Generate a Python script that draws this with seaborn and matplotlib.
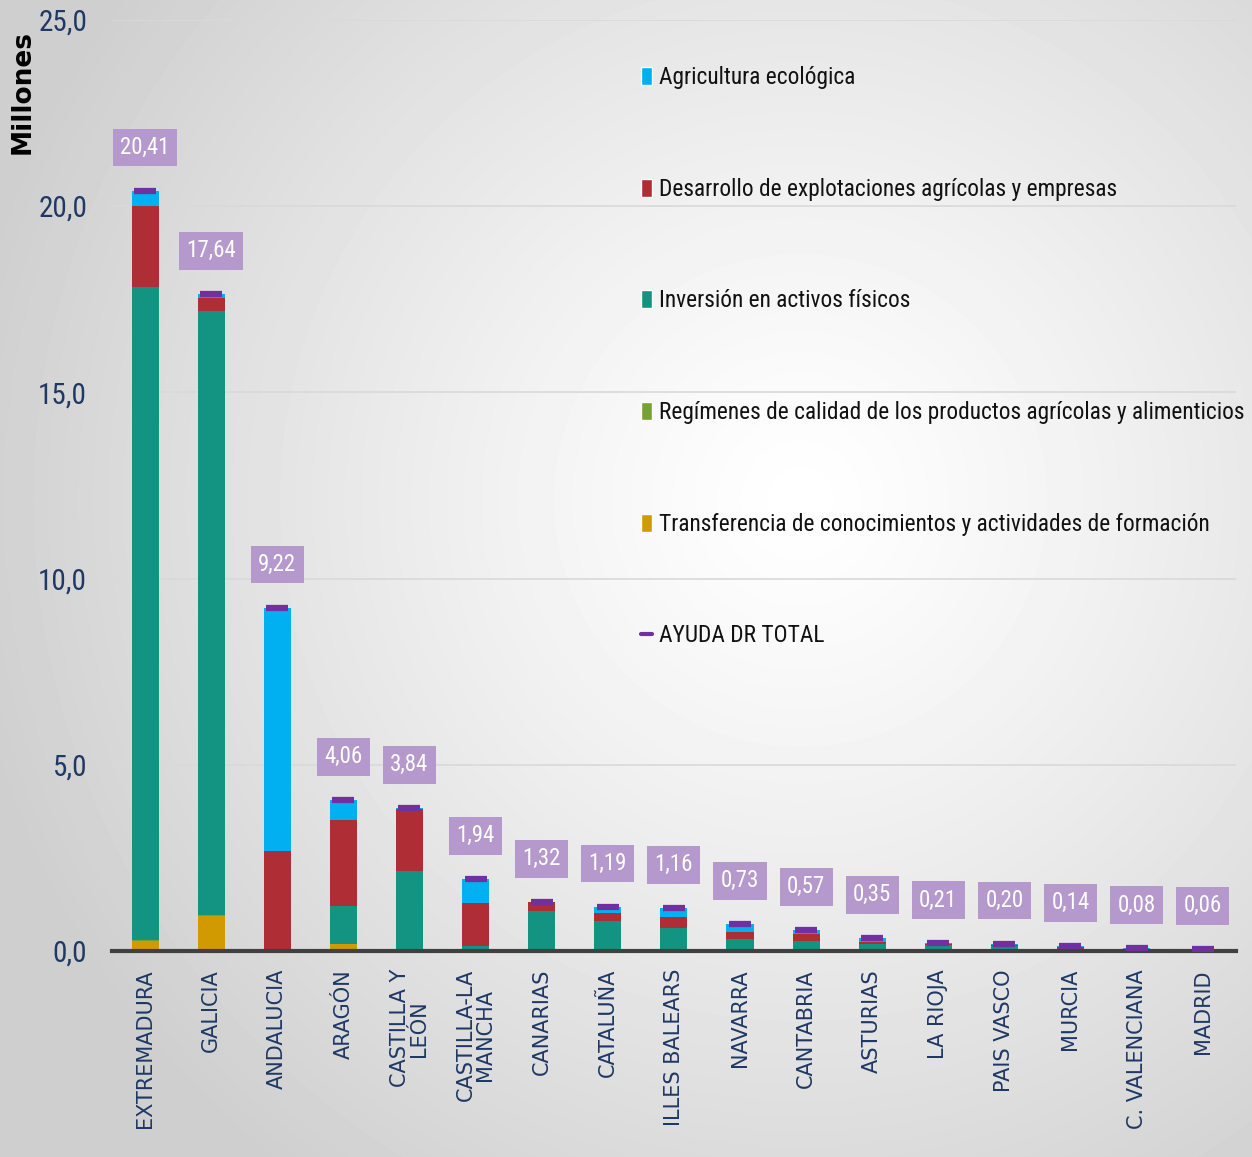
import matplotlib
matplotlib.use("Agg")
import matplotlib.pyplot as plt
from matplotlib.patches import Patch
from matplotlib.lines import Line2D
import seaborn as sns
import numpy as np

# Data (millones de euros)
regions = ["EXTREMADURA", "GALICIA", "ANDALUCIA", "ARAGÓN", "CASTILLA Y\nLEÓN",
           "CASTILLA-LA\nMANCHA", "CANARIAS", "CATALUÑA", "ILLES BALEARS", "NAVARRA",
           "CANTABRIA", "ASTURIAS", "LA RIOJA", "PAIS VASCO", "MURCIA",
           "C. VALENCIANA", "MADRID"]
transferencia = [0.28, 0.95, 0.00, 0.19, 0.00, 0.00, 0.00, 0.00, 0.00, 0.00,
                 0.00, 0.00, 0.00, 0.00, 0.00, 0.00, 0.00]
regimenes = [0.02, 0.02, 0.00, 0.00, 0.00, 0.00, 0.00, 0.00, 0.00, 0.00,
             0.00, 0.00, 0.00, 0.00, 0.00, 0.00, 0.01]
inversion = [17.53, 16.22, 0.00, 1.02, 2.15, 0.13, 1.07, 0.81, 0.62, 0.32,
             0.28, 0.19, 0.15, 0.14, 0.02, 0.02, 0.00]
desarrollo = [2.17, 0.34, 2.69, 2.31, 1.66, 1.16, 0.25, 0.20, 0.29, 0.19,
              0.18, 0.06, 0.03, 0.02, 0.08, 0.00, 0.05]
agricultura = [0.41, 0.11, 6.53, 0.54, 0.03, 0.65, 0.00, 0.18, 0.25, 0.22,
               0.11, 0.10, 0.03, 0.04, 0.04, 0.06, 0.00]
total = [20.41, 17.64, 9.22, 4.06, 3.84, 1.94, 1.32, 1.19, 1.16, 0.73,
         0.57, 0.35, 0.21, 0.20, 0.14, 0.08, 0.06]
total_labels = ["20,41", "17,64", "9,22", "4,06", "3,84", "1,94", "1,32", "1,19",
                "1,16", "0,73", "0,57", "0,35", "0,21", "0,20", "0,14", "0,08", "0,06"]

series = [
    ("Transferencia de conocimientos y actividades de formación", transferencia, "#D19A00"),
    ("Regímenes de calidad de los productos agrícolas y alimenticios", regimenes, "#78A22F"),
    ("Inversión en activos físicos", inversion, "#139483"),
    ("Desarrollo de explotaciones agrícolas y empresas", desarrollo, "#AF2D34"),
    ("Agricultura ecológica", agricultura, "#00B0F0"),
]

sns.set_style("white")
narrow = ["Roboto Condensed", "Open Sans Condensed", "Liberation Sans Narrow", "DejaVu Sans"]
navy = "#1F3864"

fig = plt.figure(figsize=(12.52, 11.57), dpi=100)

# radial grey background
bg = fig.add_axes([0, 0, 1, 1], zorder=-10)
yy, xx = np.mgrid[0:1157, 0:1252]
r = np.sqrt(((xx - 800) / 850.0) ** 2 + ((yy - 500) / 850.0) ** 2)
shade = 1.0 - 0.19 * np.clip(r, 0, 1) ** 1.2
bg.imshow(shade, cmap="gray", vmin=0, vmax=1, aspect="auto", extent=[0, 1, 0, 1])
bg.axis("off")

ax = fig.add_axes([0.0895, 0.178, 0.8975, 0.805])
ax.set_facecolor("none")

# stacked bars drawn as overlapping cumulative totals (top layer first)
cum = np.cumsum([np.array(s[1]) for s in series], axis=0)
for i in range(len(series) - 1, -1, -1):
    sns.barplot(x=regions, y=cum[i], color=series[i][2], width=0.41,
                saturation=1, linewidth=0, ax=ax, zorder=2)

# total marker
ax.plot(range(len(regions)), total, ls="none", marker="_", markersize=16,
        markeredgewidth=4.5, color="#7030A0", zorder=4)

# value labels
for i, (v, lab) in enumerate(zip(total, total_labels)):
    ax.annotate(lab, (i, v), xytext=(0, 31), textcoords="offset points",
                ha="center", va="center", color="white", fontsize=16.5,
                family=narrow,
                bbox=dict(boxstyle="square,pad=0.32", fc="#B598CC", ec="none"))

ax.set_ylim(0, 25)
ax.set_xlim(-0.5, 16.5)
ax.set_yticks([0, 5, 10, 15, 20, 25])
ax.set_yticklabels(["0,0", "5,0", "10,0", "15,0", "20,0", "25,0"],
                   family=narrow, fontsize=21, color=navy)
ax.yaxis.grid(True, color="#D9D9D9", linewidth=1.2, zorder=0)
ax.set_axisbelow(True)
ax.tick_params(axis="y", length=0, pad=18)
ax.tick_params(axis="x", length=0, pad=13)
ax.set_xticks(range(len(regions)))
ax.set_xticklabels(regions, rotation=90, va="top", ha="center", family="DejaVu Sans",
                   fontsize=15, color=navy, linespacing=0.95)
for s in ["left", "right", "top"]:
    ax.spines[s].set_visible(False)
ax.spines["bottom"].set_color("#404040")
ax.spines["bottom"].set_linewidth(3)
ax.set_xlabel("")

fig.text(0.018, 0.974, "Millones", rotation=90, ha="center", va="top",
         fontsize=19, fontweight="bold", color="black")

# legend
handles = [Patch(facecolor=c, label=n) for n, _, c in reversed(series)]
handles.append(Line2D([0], [0], color="#7030A0", lw=3, label="AYUDA DR TOTAL"))
leg = fig.legend(handles=handles, loc="upper left", bbox_to_anchor=(0.5025, 0.953),
                 frameon=False, borderpad=0, handlelength=0.5, handleheight=0.8,
                 handletextpad=0.3, labelspacing=3.8,
                 prop={"family": narrow, "size": 16.8})
for t in leg.get_texts():
    t.set_color("#111111")

fig.savefig("out.png", dpi=100)
